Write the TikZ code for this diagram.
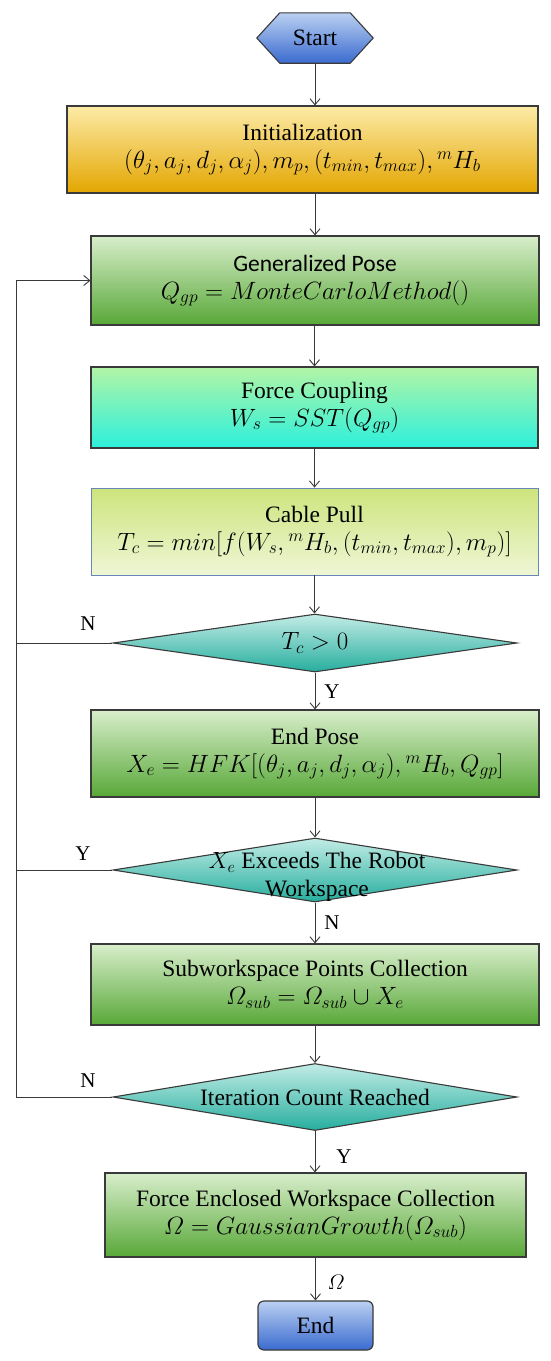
\RequirePackage{fix-cm}
\documentclass[tikz,border=0pt]{standalone}
\usepackage{amsmath}
\usepackage{fontspec}
\setmainfont{Liberation Serif}
\newfontfamily\carlito{Carlito}
\usetikzlibrary{shapes.geometric,arrows.meta,backgrounds,calc}
\newcommand\boxfont{\fontsize{23.5}{28}\selectfont}
\newcommand\mathsz{\fontsize{25}{28}\selectfont}
\newcommand\lblfont{\fontsize{21}{24}\selectfont}
\definecolor{lineC}{HTML}{3A3A3A}
\definecolor{blueT}{HTML}{BBD0F2}
\definecolor{blueB}{HTML}{3A6BCF}
\definecolor{goldT}{HTML}{FDEBA8}
\definecolor{goldB}{HTML}{E3A600}
\definecolor{greenT}{HTML}{D8EECB}
\definecolor{greenB}{HTML}{58A838}
\definecolor{cyanT}{HTML}{B2F5A6}
\definecolor{cyanB}{HTML}{2CF0DC}
\definecolor{limeT}{HTML}{CDE47C}
\definecolor{limeB}{HTML}{EFF6D6}
\definecolor{tealT}{HTML}{C2ECE6}
\definecolor{tealB}{HTML}{26AE9E}
\definecolor{cableBorder}{HTML}{6A86B8}
\tikzset{
  boxbase/.style={draw=lineC, line width=1.2pt, align=center, font=\boxfont, inner sep=0pt},
  greenbox/.style={boxbase, top color=greenT, bottom color=greenB},
  decision/.style={diamond, draw=lineC, line width=1.1pt, inner sep=0pt, top color=tealT, bottom color=tealB, minimum width=404pt},
  arr/.style={draw=lineC, line width=0.9pt, -{Straight Barb[length=6pt,width=10pt]}},
  conn/.style={draw=lineC, line width=0.9pt},
  lbl/.style={font=\lblfont, inner sep=0pt}
}
\begin{document}
\begin{tikzpicture}[x=1pt,y=-1pt]
\useasboundingbox (0,0) rectangle (550,1361);

% Start
\node[font=\boxfont, minimum width=116pt, minimum height=50pt, inner sep=0pt] (start) at (315,38) {Start};
\begin{scope}[on background layer]
\fill[white] (0,0) rectangle (550,1361);
\shade[draw=lineC, line width=1.1pt, top color=blueT, bottom color=blueB]
  (start.west) -- ($(start.north west)+(23,0)$) -- ($(start.north east)+(-23,0)$)
  -- (start.east) -- ($(start.south east)+(-23,0)$) -- ($(start.south west)+(23,0)$) -- cycle;
\end{scope}

% Initialization
\node[boxbase, top color=goldT, bottom color=goldB, minimum width=471pt, minimum height=87pt] (init) at (302.5,149.5)
  {Initialization\\\mathsz$(\theta_j, a_j, d_j, \alpha_j), m_p, (t_{min}, t_{max}), {}^{m}H_b$};

% Generalized pose
\node[greenbox, minimum width=448pt, minimum height=89pt] (gp) at (315,280.5)
  {{\carlito Generalized Pose}\\\mathsz$Q_{gp} = MonteCarloMethod()$};

% Force coupling
\node[boxbase, top color=cyanT, bottom color=cyanB, minimum width=447pt, minimum height=81pt] (fc) at (314.5,407.5)
  {Force Coupling\\\mathsz$W_s = SST(Q_{gp})$};

% Cable pull
\node[boxbase, draw=cableBorder, line width=0.9pt, top color=limeT, bottom color=limeB, minimum width=447pt, minimum height=87pt] (cp) at (314.5,531.5)
  {Cable Pull\\\mathsz$T_c = min[f(W_s, {}^{m}H_b, (t_{min}, t_{max}), m_p)]$};

% Decision 1
\node[decision, minimum height=58pt] (d1) at (315,643) {};
\node[font=\mathsz] (d1t) at (d1) {$T_c > 0$};

% End pose
\node[greenbox, minimum width=448pt, minimum height=87pt] (ep) at (315,753.5)
  {End Pose\\\mathsz$X_e = HFK[(\theta_j, a_j, d_j, \alpha_j), {}^{m}H_b, Q_{gp}]$};

% Decision 2
\node[decision, minimum height=64pt] (d2) at (315,870) {};
\node[font=\boxfont, align=center, inner sep=0pt] (d2t) at (317,877) {$X_e$ Exceeds The Robot\\Workspace};

% Subworkspace
\node[greenbox, minimum width=448pt, minimum height=81pt] (sw) at (315,984.5)
  {Subworkspace Points Collection\\\mathsz$\varOmega_{sub} = \varOmega_{sub} \cup X_e$};

% Decision 3
\node[decision, minimum height=67pt] (d3) at (315,1097) {};
\node[font=\boxfont] (d3t) at (d3) {Iteration Count Reached};

% Force enclosed
\node[greenbox, minimum width=421pt, minimum height=84pt] (fe) at (315.5,1215)
  {Force Enclosed Workspace Collection\\\mathsz$\varOmega = GaussianGrowth(\varOmega_{sub})$};

% End
\node[boxbase, rounded corners=6pt, top color=blueT, bottom color=blueB, minimum width=115pt, minimum height=49pt] (end) at (315.5,1325.5) {End};

% Connectors
\draw[arr] (start.south) -- (start.south |- init.north);
\draw[arr] (gp.north |- init.south) -- (gp.north);
\draw[arr] (gp.south) -- (gp.south -| fc.north) -- (fc.north);
\draw[arr] (fc.south) -- (fc.south |- cp.north);
\draw[arr] (cp.south) -- (cp.south |- d1.north);
\draw[arr] (d1.south) -- (d1.south |- ep.north);
\draw[arr] (ep.south) -- (ep.south |- d2.north);
\draw[arr] (d2.south) -- (d2.south |- sw.north);
\draw[arr] (sw.south) -- (sw.south |- d3.north);
\draw[arr] (d3.south) -- (d3.south |- fe.north);
\draw[arr] (fe.south) -- (fe.south |- end.north);

% Loop back
\coordinate (lx) at (16.5,0);
\draw[arr] (d3.west) -- (d3.west -| lx) -- (lx |- gp.west) -- (gp.west);
\draw[conn] (d1.west) -- (d1.west -| lx);
\draw[conn] (d2.west) -- (d2.west -| lx);

% Labels
\node[lbl] (n1) at (88,624) {N};
\node[lbl] (y1) at (332,692) {Y};
\node[lbl] (y2) at (83,854) {Y};
\node[lbl] (n2) at (332,923) {N};
\node[lbl] (n3) at (88,1081) {N};
\node[lbl] (y3) at (344,1157) {Y};
\node[lbl] (om) at (336,1282) {$\varOmega$};
\end{tikzpicture}
\end{document}
